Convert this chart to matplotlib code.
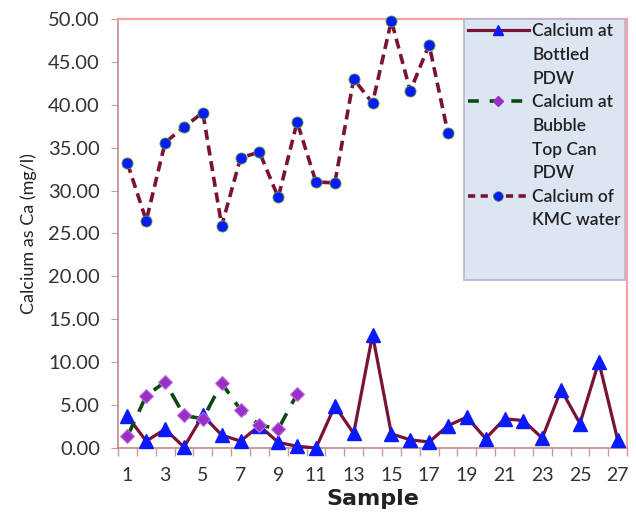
import matplotlib
matplotlib.use("Agg")
import matplotlib.pyplot as plt
from matplotlib.lines import Line2D
import numpy as np

plt.rcParams['font.family'] = ['Lato', 'DejaVu Sans']

# calcium (mg/l) per sample
samples = list(range(1, 28))
bottled = [3.7, 0.8, 2.2, 0.1, 3.8, 1.5, 0.8, 2.6, 0.65, 0.2, 0.0, 4.9, 1.7, 13.2,
           1.65, 0.95, 0.7, 2.6, 3.6, 1.1, 3.4, 3.2, 1.15, 6.8, 2.85, 10.05, 0.95]
bubble_top = [1.35, 6.1, 7.7, 3.8, 3.4, 7.55, 4.45, 2.7, 2.2, 6.3]
kmc = [33.2, 26.5, 35.6, 37.4, 39.1, 25.9, 33.8, 34.5, 29.2, 38.0, 31.0, 30.9,
       43.0, 40.2, 49.8, 41.6, 47.0, 36.7]
y_ticks = np.arange(0, 50.01, 5)
x_labels = list(range(1, 28, 2))

maroon = '#7a1238'
pink = '#f2a2a2'

fig = plt.figure(figsize=(6.36, 5.16), dpi=100)
ax = fig.add_axes([0.1855, 0.1318, 0.8005, 0.8314])

ax.plot(samples, bottled, color=maroon, lw=2.3, marker='^', ms=9.5,
        mfc='#0a1aff', mec='#0a1aff', clip_on=False, zorder=3)
ax.plot(samples[:len(bubble_top)], bubble_top, color='#0d4a12', lw=2.6,
        dashes=(4.5, 3), marker='D', ms=7, mfc='#9a2fc8', mec='#c070e0',
        mew=0.8, clip_on=False, zorder=4)
ax.plot(samples[:len(kmc)], kmc, color=maroon, lw=2.6, dashes=(2.8, 1.6),
        marker='o', ms=8, mfc='#0a1aff', mec='#55aa33', mew=0.6,
        clip_on=False, zorder=5)

ax.set_xlim(0.5, 27.5)
ax.set_ylim(0, 50)
ax.set_yticks(y_ticks)
ax.set_yticklabels(['%.2f' % v for v in y_ticks])
ax.set_xticks(x_labels)
ax.set_xticks(np.arange(0.5, 28, 1), minor=True)
ax.tick_params(axis='x', which='major', length=0, pad=14, labelsize=14,
               labelcolor='#333333')
ax.tick_params(axis='x', which='minor', length=6, color='#c89a9a', width=1)
ax.tick_params(axis='y', length=5, color='#c89a9a', labelsize=14.5,
               labelcolor='#333333', pad=8)

for side in ['top', 'right']:
    ax.spines[side].set_color(pink)
    ax.spines[side].set_linewidth(1.6)
for side in ['left', 'bottom']:
    ax.spines[side].set_color('#c48a8a')
    ax.spines[side].set_linewidth(1.2)

ax.set_ylabel('Calcium as Ca (mg/l)', fontsize=13, color='#222222', labelpad=8)
ax.set_xlabel('Sample', fontsize=16, fontweight='black', family='DejaVu Sans',
              color='#222222', labelpad=3)

# legend: one row per text line, handle on the first line of each entry
blank = Line2D([], [], linestyle='none')
h_bottled = Line2D([], [], color=maroon, lw=2.3, marker='^', ms=7,
                   mfc='#0a1aff', mec='#0a1aff')
h_bubble = Line2D([], [], color='#0d4a12', lw=2.6, dashes=(3, 3), marker='D',
                  ms=5, mfc='#9a2fc8', mec='#9a2fc8')
h_kmc = Line2D([], [], color=maroon, lw=2.6, dashes=(2, 1.5), marker='o', ms=7,
               mfc='#0a1aff', mec='#55aa33', mew=0.5)
handles = [h_bottled, blank, blank, h_bubble, blank, blank, blank, h_kmc, blank,
           blank, blank]
labels = ['Calcium at', 'Bottled', 'PDW', 'Calcium at', 'Bubble', 'Top Can',
          'PDW', 'Calcium of', 'KMC water', ' ', ' ']
leg = ax.legend(handles, labels, loc='upper right', bbox_to_anchor=(0.996, 1.0),
                borderaxespad=0, fancybox=False, framealpha=1,
                facecolor='#dce6f2', edgecolor='#b8b0d4', fontsize=12.5,
                handlelength=3.5, handletextpad=0.2, labelspacing=0.44,
                borderpad=0.25, numpoints=1)
leg.get_frame().set_linewidth(1.2)
for t in leg.get_texts():
    t.set_color('#222222')
    t.set_fontweight('semibold')

fig.savefig('out.png', dpi=100)
